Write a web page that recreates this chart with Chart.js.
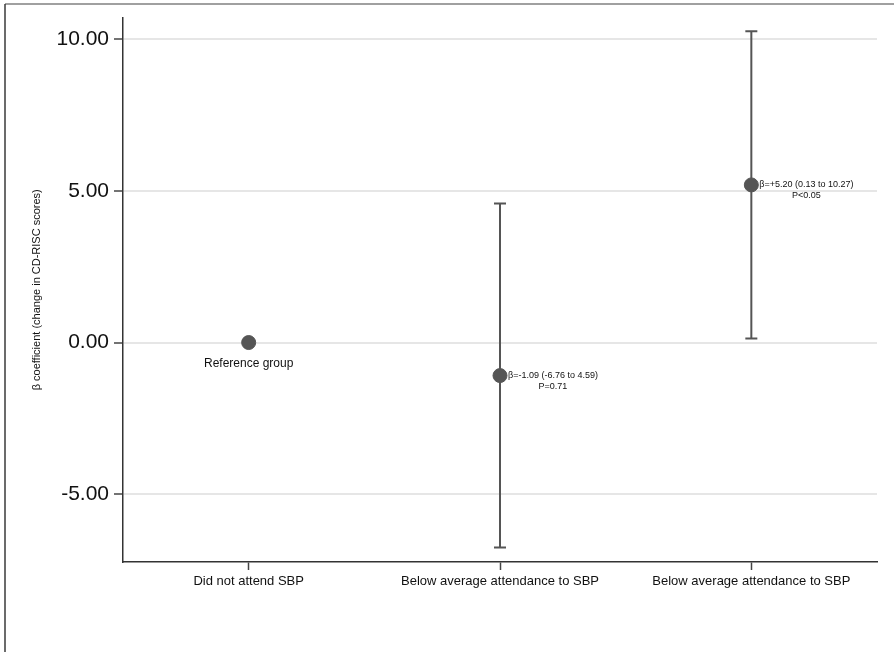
<!DOCTYPE html>
<html lang="en">
<head>
<meta charset="UTF-8">
<meta name="viewport" content="width=device-width, initial-scale=1.0">
<title>β coefficient by SBP attendance</title>
<script src="https://cdn.jsdelivr.net/npm/chart.js"></script>
<style>
  html, body { margin: 0; padding: 0; background: #ffffff; }
  #wrap { position: relative; width: 894px; height: 652px; }
</style>
</head>
<body>
<div id="wrap"><canvas id="chart"></canvas></div>
<script>
// data
const categories = ['Did not attend SBP', 'Below average attendance to SBP', 'Below average attendance to SBP'];
const betas = [0, -1.09, 5.20];
const lowerCI = [null, -6.76, 0.13];
const upperCI = [null, 4.59, 10.27];
const yTicks = [-5, 0, 5, 10];
const notes = [
  ['Reference group'],
  ['β=-1.09 (-6.76 to 4.59)', 'P=0.71'],
  ['β=+5.20 (0.13 to 10.27)', 'P<0.05']
];

const FONT = "'Liberation Sans', Arial, Helvetica, sans-serif";
const MARK = '#555555';

// points + one line dataset per confidence interval
const datasets = [{
  data: categories.map((c, i) => ({ x: i + 1, y: betas[i] })),
  showLine: false,
  pointRadius: 7,
  pointHoverRadius: 7,
  backgroundColor: MARK,
  borderColor: MARK
}];
categories.forEach((c, i) => {
  if (lowerCI[i] === null) return;
  datasets.push({
    data: [{ x: i + 1, y: lowerCI[i] }, { x: i + 1, y: upperCI[i] }],
    showLine: true,
    borderColor: MARK,
    borderWidth: 2,
    pointStyle: 'line',
    pointRadius: 6,
    pointHoverRadius: 6,
    pointBorderColor: MARK,
    pointBorderWidth: 2
  });
});

// outer frame like the original figure
const framePlugin = {
  id: 'frame',
  beforeDraw(chart) {
    const ctx = chart.ctx;
    ctx.save();
    ctx.fillStyle = '#ffffff';
    ctx.fillRect(0, 0, chart.width, chart.height);
    ctx.strokeStyle = '#808080';
    ctx.lineWidth = 1.5;
    ctx.beginPath();
    ctx.moveTo(5, 4);
    ctx.lineTo(chart.width, 4);
    ctx.stroke();
    ctx.strokeStyle = '#3a3a3a';
    ctx.beginPath();
    ctx.moveTo(5, 4);
    ctx.lineTo(5, chart.height);
    ctx.stroke();
    ctx.restore();
  }
};

// text next to each estimate
const notesPlugin = {
  id: 'notes',
  afterDatasetsDraw(chart) {
    const ctx = chart.ctx;
    const xs = chart.scales.x, ys = chart.scales.y;
    ctx.save();
    ctx.fillStyle = '#111111';
    ctx.textBaseline = 'middle';
    notes.forEach((lines, i) => {
      const px = xs.getPixelForValue(i + 1);
      const py = ys.getPixelForValue(betas[i]);
      if (lines.length === 1) {
        ctx.font = '12px ' + FONT;
        ctx.textAlign = 'center';
        ctx.fillText(lines[0], px, py + 21);
        return;
      }
      ctx.font = '9px ' + FONT;
      ctx.textAlign = 'left';
      const w = ctx.measureText(lines[0]).width;
      ctx.fillText(lines[0], px + 8, py);
      ctx.textAlign = 'center';
      ctx.fillText(lines[1], px + 8 + w / 2, py + 10.5);
    });
    ctx.restore();
  }
};

new Chart(document.getElementById('chart'), {
  type: 'scatter',
  data: { datasets: datasets },
  plugins: [framePlugin, notesPlugin],
  options: {
    responsive: true,
    maintainAspectRatio: false,
    devicePixelRatio: 1,
    animation: false,
    layout: { padding: { top: 16, right: 17, left: 0, bottom: 0 } },
    plugins: {
      legend: { display: false },
      tooltip: { enabled: false }
    },
    scales: {
      x: {
        type: 'linear',
        min: 0.5,
        max: 3.5,
        afterBuildTicks: s => { s.ticks = categories.map((c, i) => ({ value: i + 1 })); },
        afterFit: s => { s.height = 90; },
        ticks: {
          callback: (v, idx) => categories[idx],
          font: { family: FONT, size: 13 },
          color: '#111111',
          padding: 4,
          maxRotation: 0,
          autoSkip: false
        },
        grid: {
          drawOnChartArea: false,
          drawTicks: true,
          tickLength: 8,
          tickColor: '#444444',
          tickWidth: 1.5
        },
        border: { color: '#333333', width: 1.5 }
      },
      y: {
        min: -7.24,
        max: 10.72,
        afterBuildTicks: s => { s.ticks = yTicks.map(v => ({ value: v })); },
        afterFit: s => { s.width = 123; },
        ticks: {
          callback: v => v.toFixed(2),
          font: { family: FONT, size: 21 },
          color: '#111111',
          padding: 5
        },
        grid: {
          color: '#e6e6e6',
          lineWidth: 2,
          tickLength: 9,
          tickColor: '#444444',
          tickWidth: 1.5
        },
        border: { color: '#333333', width: 1.5 },
        title: {
          display: true,
          text: 'β coefficient (change in CD-RISC scores)',
          font: { family: FONT, size: 11 },
          color: '#111111',
          padding: { top: 30, bottom: 0 }
        }
      }
    }
  }
});
</script>
</body>
</html>
